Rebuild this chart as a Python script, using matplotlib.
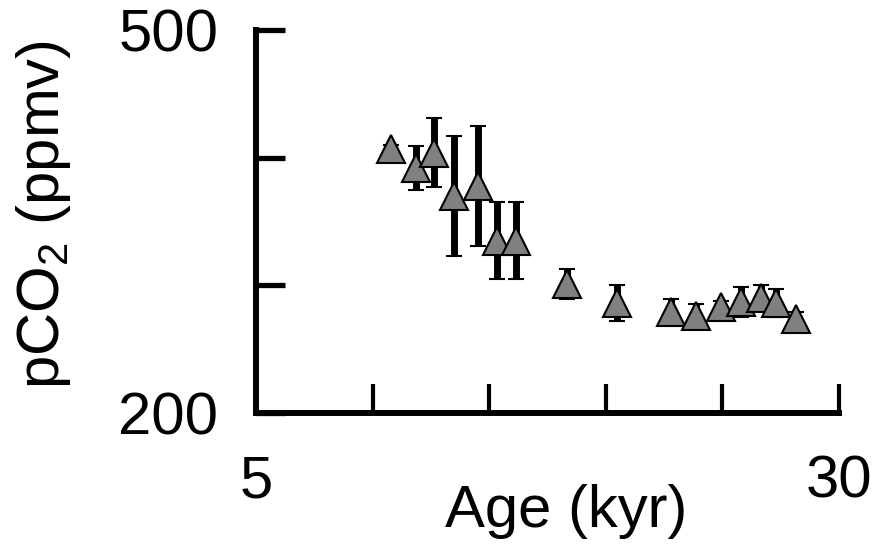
import matplotlib
matplotlib.use('Agg')
import matplotlib.pyplot as plt

plt.rcParams['font.family'] = ['Liberation Sans', 'DejaVu Sans']
plt.rcParams['mathtext.fontset'] = 'custom'
plt.rcParams['mathtext.rm'] = 'Liberation Sans'
plt.rcParams['mathtext.it'] = 'Liberation Sans'

# pCO2 reconstruction vs age
age = [10.8, 11.85, 12.65, 13.5, 14.5, 15.35, 16.15, 18.35, 20.5, 22.8, 23.85, 24.95, 25.8, 26.65, 27.3, 28.15]
co2 = [407, 392, 404, 370, 378, 335, 335, 301, 286, 279, 276, 283, 287, 290, 286, 274]
err = [3, 17, 27, 47, 47, 30, 30, 12, 14, 10, 9, 5, 12, 10, 11, 5]

x_ticks = [5, 10, 15, 20, 25, 30]
x_labels = ['5', '', '', '', '', '30']
y_ticks = [200, 300, 400, 500]
y_labels = ['200', '', '', '500']

fig = plt.figure(figsize=(8.78, 5.46), dpi=100)
ax = fig.add_axes([256/878, 1-413/546, (839-256)/878, (413-30)/546])

ax.errorbar(age, co2, yerr=err, fmt='^', ms=20, mfc='#808080', mec='black', mew=1.5,
            ecolor='black', elinewidth=5, capsize=5.5, capthick=4.5, clip_on=False)

ax.set_xlim(5, 30)
ax.set_ylim(200, 500)
ax.set_xticks(x_ticks)
ax.set_xticklabels(x_labels)
ax.set_yticks(y_ticks)
ax.set_yticklabels(y_labels)

for s in ['top', 'right']:
    ax.spines[s].set_visible(False)
for s in ['left', 'bottom']:
    ax.spines[s].set_linewidth(4.3)
    ax.spines[s].set_capstyle('projecting')

ax.tick_params(axis='x', direction='in', length=21, width=3.0, pad=30, labelsize=43)
ax.tick_params(axis='y', direction='in', length=21, width=3.8, pad=27, labelsize=43)

fig.text(566/878, 1-527/546, 'Age (kyr)', ha='center', va='baseline', fontsize=43)
fig.text(44/878, 1-215/546, r'pCO$_2$ (ppmv)', ha='center', va='center', rotation=90, fontsize=43)

fig.savefig('out.png', dpi=100)
